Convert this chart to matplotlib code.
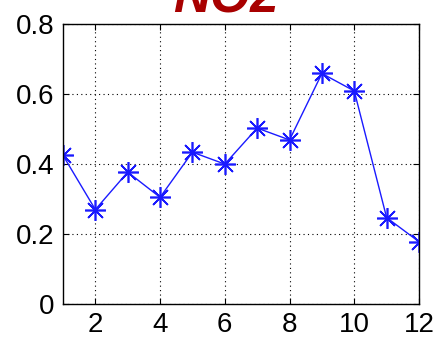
import numpy as np
import matplotlib
matplotlib.use('Agg')
import matplotlib.pyplot as plt

# data
months = np.arange(1, 13)
no2 = [0.425, 0.27, 0.377, 0.305, 0.434, 0.40, 0.503, 0.469, 0.659, 0.609, 0.247, 0.178]
xticks = [2, 4, 6, 8, 10, 12]
yticks = [0, 0.2, 0.4, 0.6, 0.8]

plt.rcParams['font.family'] = ['Liberation Sans', 'DejaVu Sans']

fig = plt.figure(figsize=(4.38, 3.45), dpi=100)
ax = fig.add_axes([0.1438, 0.1188, 0.8128, 0.8112])

ax.plot(months, no2, color='#1a1aff', linewidth=1.0,
        marker=(8, 2, 0), markersize=15, markeredgewidth=1.2)

ax.set_xlim(1, 12)
ax.set_ylim(0, 0.8)
ax.set_xticks(xticks)
ax.set_yticks(yticks)
ax.set_yticklabels(['0', '0.2', '0.4', '0.6', '0.8'])
ax.tick_params(direction='in', top=True, right=True, labelsize=20, length=4, pad=6)
ax.grid(True, color='black', linestyle=(0, (1, 3)), linewidth=0.8)
for s in ax.spines.values():
    s.set_linewidth(1.0)

# title, cut off by the top edge as in the original
fig.text(226 / 438, 0.965, 'NO2', color='#a80000', fontsize=37,
         fontweight='bold', fontstyle='italic', ha='center', va='baseline')

fig.savefig('out.png', dpi=100)
